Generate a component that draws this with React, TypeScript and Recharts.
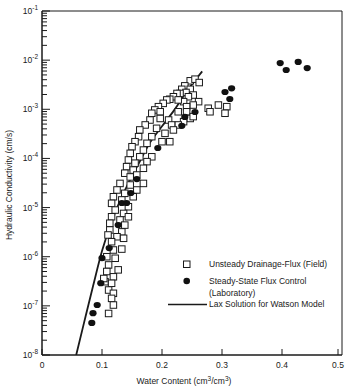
import { ComposedChart, Scatter, Line, XAxis, YAxis, ReferenceArea } from "recharts"

const FONT = "'Liberation Sans', Arial, Helvetica, sans-serif"
const INK = "#1a1a1a"
const FS = 8.5

// Unsteady Drainage-Flux (Field) - open squares
const fieldTheta = [
  0.247, 0.255, 0.262, 0.238, 0.247, 0.233, 0.24, 0.23, 0.225, 0.252, 0.244, 0.219, 0.213, 0.236, 0.227, 0.208,
  0.261, 0.202, 0.252, 0.241, 0.194, 0.188, 0.197, 0.183, 0.241, 0.227, 0.277, 0.28, 0.294, 0.308, 0.305, 0.247,
  0.236, 0.252, 0.227, 0.18, 0.197, 0.172, 0.211, 0.216, 0.219, 0.163, 0.191, 0.161, 0.205, 0.183, 0.155, 0.2,
  0.175, 0.15, 0.213, 0.169, 0.147, 0.163, 0.144, 0.183, 0.155, 0.141, 0.175, 0.152, 0.138, 0.169, 0.147, 0.158,
  0.13, 0.147, 0.169, 0.125, 0.138, 0.158, 0.119, 0.133, 0.152, 0.116, 0.144, 0.122, 0.136, 0.116, 0.13, 0.144,
  0.113, 0.138, 0.113, 0.133, 0.11, 0.125, 0.116, 0.136, 0.119, 0.133, 0.108, 0.122, 0.111, 0.127, 0.108, 0.119,
  0.105, 0.116, 0.111, 0.119, 0.116, 0.119, 0.111, 0.103,
]
const fieldK = [
  3.8e-3, 4.1e-3, 3.5e-3, 3.0e-3, 2.55e-3, 2.55e-3, 2.2e-3, 2.1e-3, 2.1e-3, 1.95e-3, 1.8e-3, 1.8e-3, 1.6e-3, 1.43e-3,
  1.55e-3, 1.55e-3, 1.43e-3, 1.32e-3, 1.22e-3, 1.13e-3, 1.13e-3, 9.7e-4, 8.9e-4, 8.3e-4, 8.9e-4, 8.9e-4, 1.05e-3,
  8.9e-4, 1.22e-3, 1.13e-3, 8.3e-4, 6.5e-4, 5.6e-4, 7.1e-4, 4.8e-4, 6.05e-4, 6.5e-4, 4.8e-4, 6.05e-4, 4.8e-4,
  3.8e-4, 3.8e-4, 4.1e-4, 2.77e-4, 3.24e-4, 2.77e-4, 2.19e-4, 2.19e-4, 2.03e-4, 1.73e-4, 2.19e-4, 1.48e-4, 1.27e-4,
  1.08e-4, 9.3e-5, 1.08e-4, 8.0e-5, 6.8e-5, 8.6e-5, 5.8e-5, 5.0e-5, 6.3e-5, 4.2e-5, 4.6e-5, 3.1e-5, 2.88e-5, 3.1e-5,
  2.28e-5, 1.95e-5, 2.28e-5, 1.66e-5, 1.43e-5, 1.66e-5, 1.22e-5, 1.04e-5, 8.9e-6, 7.6e-6, 6.5e-6, 5.6e-6, 6.5e-6,
  4.8e-6, 4.4e-6, 3.5e-6, 3.2e-6, 2.77e-6, 2.55e-6, 2.02e-6, 2.37e-6, 1.37e-6, 1.43e-6, 1.0e-6, 9.3e-7, 6.8e-7,
  5.4e-7, 5.0e-7, 3.9e-7, 3.1e-7, 2.88e-7, 2.1e-7, 1.8e-7, 1.42e-7, 1.04e-7, 7.0e-8, 3.6e-7,
]

// Steady-State Flux Control (Laboratory) - filled dots
const labTheta = [
  0.255, 0.238, 0.233, 0.193, 0.158, 0.148, 0.133, 0.141, 0.127, 0.112, 0.1, 0.098, 0.092, 0.085, 0.083, 0.305,
  0.316, 0.313, 0.397, 0.407, 0.427, 0.442,
]
const labK = [
  8.8e-4, 7.0e-4, 4.6e-4, 1.63e-4, 3.8e-5, 1.98e-5, 1.24e-5, 1.24e-5, 4.4e-6, 1.5e-6, 9.4e-7, 2.9e-7, 1.04e-7,
  7.1e-8, 4.5e-8, 2.25e-3, 2.67e-3, 1.62e-3, 8.7e-3, 6.3e-3, 9.2e-3, 6.9e-3,
]

// Lax Solution for Watson Model
const watsonTheta = [0.057, 0.07, 0.085, 0.1, 0.12, 0.14, 0.16, 0.18, 0.2, 0.22, 0.24, 0.267]
const watsonK = [1e-8, 4.5e-8, 2.5e-7, 1.3e-6, 7e-6, 2.5e-5, 7.4e-5, 2.1e-4, 4.5e-4, 9.5e-4, 2.2e-3, 5.9e-3]

const xTicks = [0, 0.1, 0.2, 0.3, 0.4, 0.5]
const decades = [-8, -7, -6, -5, -4, -3, -2, -1]
const minorSteps = [2, 3, 4, 5, 6, 7, 8, 9]

const fieldData = fieldTheta.map((x, i) => ({ x, k: fieldK[i] }))
const labData = labTheta.map((x, i) => ({ x, k: labK[i] }))
const watsonData = watsonTheta.map((x, i) => ({ x, k: watsonK[i] }))

const yTicks: number[] = []
decades.forEach((d) => {
  yTicks.push(Math.pow(10, d))
  if (d < -1) minorSteps.forEach((m) => yTicks.push(m * Math.pow(10, d)))
})

const YTick = ({ x, y, payload }: any) => {
  const v = payload.value
  const lg = Math.log10(v)
  const exp = Math.round(lg)
  const major = Math.abs(lg - exp) < 1e-6
  return (
    <g>
      <line x1={x} x2={x + (major ? 8 : 5)} y1={y} y2={y} stroke={INK} strokeWidth={1} />
      {major && (
        <text x={x - 4} y={y + 3} textAnchor="end" fontSize={FS} fontFamily={FONT} fill={INK}>
          10
          <tspan dy={-4} fontSize={6.5}>{exp}</tspan>
        </text>
      )}
    </g>
  )
}

const XTick = ({ x, y, payload }: any) => (
  <g>
    <line x1={x} x2={x} y1={y} y2={y - 6} stroke={INK} strokeWidth={1} />
    <text x={x} y={y + 13} textAnchor="middle" fontSize={FS} fontFamily={FONT} fill={INK}>
      {payload.value}
    </text>
  </g>
)

const XTitle = ({ viewBox }: any) => (
  <text
    x={viewBox.x + viewBox.width / 2 - 8}
    y={viewBox.y + 29}
    textAnchor="middle"
    fontSize={FS}
    fontFamily={FONT}
    fill={INK}
  >
    Water Content (cm<tspan dy={-3} fontSize={6.5}>3</tspan>
    <tspan dy={3}>/cm</tspan>
    <tspan dy={-3} fontSize={6.5}>3</tspan>
    <tspan dy={3}>)</tspan>
  </text>
)

const YTitle = ({ viewBox }: any) => {
  const cx = 9
  const cy = viewBox.y + viewBox.height / 2 + 2
  return (
    <text
      x={cx}
      y={cy}
      transform={`rotate(-90 ${cx} ${cy})`}
      textAnchor="middle"
      dominantBaseline="central"
      fontSize={FS}
      fontFamily={FONT}
      fill={INK}
    >
      Hydraulic Conductivity (cm/s)
    </text>
  )
}

const squareShape = (props: any) => (
  <rect x={props.cx - 3.25} y={props.cy - 3.25} width={6.5} height={6.5} fill="#fff" stroke={INK} strokeWidth={1} />
)

const dotShape = (props: any) => <ellipse cx={props.cx} cy={props.cy} rx={3.6} ry={3.1} fill="#111" />

function LegendBox() {
  const t = { fontSize: FS, fontFamily: FONT, fill: INK }
  return (
    <svg width={348} height={387} style={{ position: "absolute", left: 0, top: 0, pointerEvents: "none" }}>
      <rect x={183.5} y={261} width={6.5} height={6.5} fill="#fff" stroke={INK} />
      <text x={209} y={267} {...t}>Unsteady Drainage-Flux (Field)</text>
      <circle cx={186.7} cy={281} r={3.3} fill="#111" />
      <text x={209} y={284} {...t}>Steady-State Flux Control</text>
      <text x={209} y={296} {...t}>(Laboratory)</text>
      <line x1={168} x2={207} y1={304.5} y2={304.5} stroke={INK} strokeWidth={1.6} />
      <text x={209} y={307} {...t}>Lax Solution for Watson Model</text>
    </svg>
  )
}

export default function App() {
  return (
    <div style={{ position: "absolute", left: 0, top: 0, width: 348, height: 387, background: "#fff" }}>
      <ComposedChart width={348} height={387} margin={{ top: 11, right: 6, left: 0, bottom: 0 }}>
        <XAxis
          type="number"
          dataKey="x"
          domain={[0, 0.5]}
          ticks={xTicks}
          allowDataOverflow
          height={32}
          tickSize={0}
          tickMargin={0}
          tickLine={false}
          axisLine={{ stroke: INK }}
          tick={<XTick />}
          label={<XTitle />}
        />
        <YAxis
          type="number"
          dataKey="k"
          scale="log"
          domain={[1e-8, 1e-1]}
          ticks={yTicks}
          allowDataOverflow
          width={42}
          tickSize={0}
          tickMargin={0}
          tickLine={false}
          axisLine={{ stroke: INK }}
          tick={<YTick />}
          interval={0}
          label={<YTitle />}
        />
        <ReferenceArea x1={0} x2={0.5} y1={1e-8} y2={1e-1} fill="none" stroke={INK} strokeWidth={1} ifOverflow="visible" />
        <Scatter data={fieldData} dataKey="k" shape={squareShape} isAnimationActive={false} />
        <Scatter data={labData} dataKey="k" shape={dotShape} isAnimationActive={false} />
        <Line
          data={watsonData}
          dataKey="k"
          type="monotone"
          stroke={INK}
          strokeWidth={1.8}
          dot={false}
          isAnimationActive={false}
        />
      </ComposedChart>
      <LegendBox />
    </div>
  )
}
